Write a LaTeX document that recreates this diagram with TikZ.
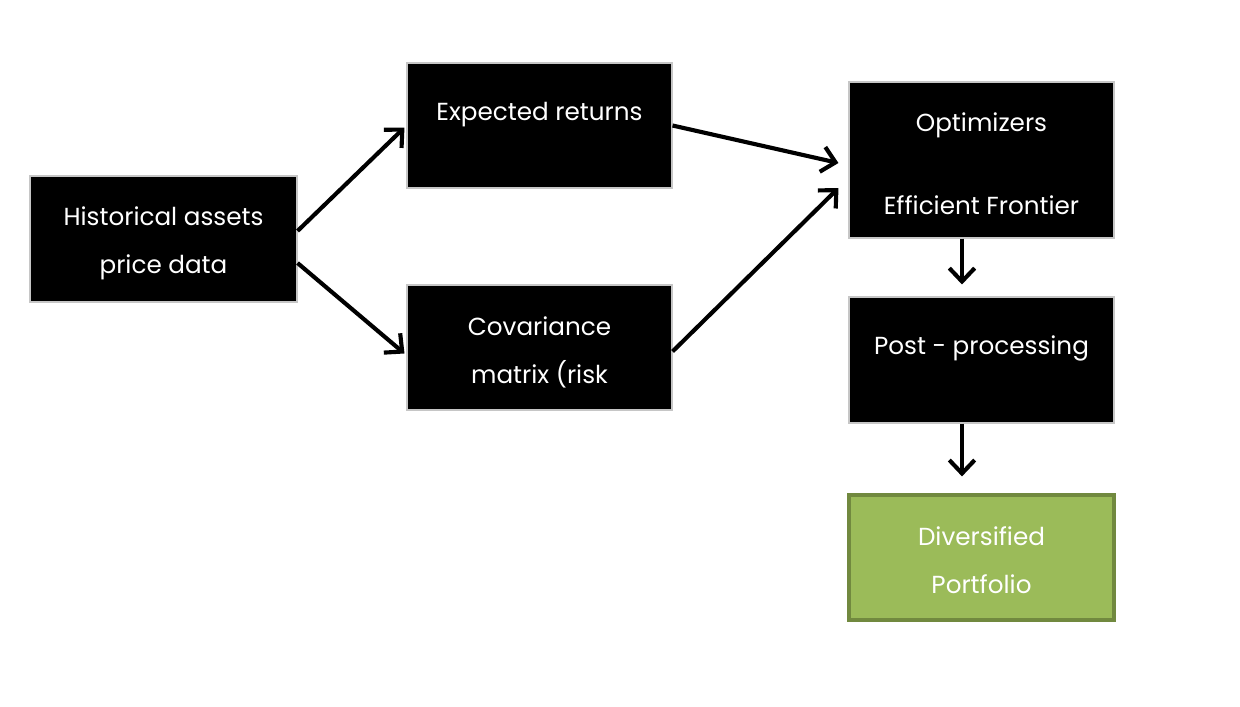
\documentclass[tikz,border=0pt]{standalone}
\usepackage{fontspec}
\setmainfont{Poppins}
\usetikzlibrary{arrows.meta,calc}
\definecolor{boxgreen}{HTML}{9BBB59}
\definecolor{boxgreenedge}{HTML}{71893F}
\tikzset{
  stepbox/.style={draw=gray!45, line width=0.8pt, fill=black, minimum width=265*0.75pt, minimum height=125*0.75pt, inner sep=0pt},
  greenbox/.style={stepbox, fill=boxgreen, draw=boxgreenedge, line width=2.4pt},
  boxtxt/.style={text=white, align=center, font=\fontsize{18.5}{36}\selectfont, inner sep=0pt},
  flow/.style={line width=3.1pt, -{Straight Barb[length=10pt,width=19pt,line width=3.1pt]}},
}
\begin{document}
\begin{tikzpicture}[x=0.75pt,y=-0.75pt]
\useasboundingbox (0,0) rectangle (1240,707);
\node[stepbox, minimum width=267*0.75pt, minimum height=126*0.75pt,
  label={[boxtxt,yshift=-3.5pt]center:Historical assets\\price data}] (hist) at (163.5,239) {};
\node[stepbox] (exp) at (539.5,125.5) {};
\node[boxtxt] (exptxt) at (539.5,115) {Expected returns};
\node[stepbox, label={[boxtxt,yshift=-3.5pt]center:Covariance\\matrix (risk}] (cov) at (539.5,347.5) {};
\node[stepbox, minimum height=156*0.75pt] (opt) at (981.5,160) {};
\node[boxtxt] (opttxt1) at (981.5,125) {Optimizers};
\node[boxtxt] (opttxt2) at (981.5,205) {Efficient Frontier};
\node[stepbox, minimum height=126*0.75pt] (post) at (981.5,360) {};
\node[boxtxt] (posttxt) at (981.5,348) {Post - processing};
\node[greenbox, label={[boxtxt,yshift=-2pt]center:Diversified\\Portfolio}] (div) at (981.5,557.5) {};
\draw[flow] ($(hist.east)+(0,-8)$) -- ($(exp.west)+(-2,2)$);
\draw[flow] ($(hist.east)+(0,24)$) -- ($(cov.west)+(-2,6)$);
\draw[flow] ($(exp.east)+(0,0)$) -- ($(opt.west)+(-10,3)$);
\draw[flow] ($(cov.east)+(0,4)$) -- ($(opt.west)+(-10,28)$);
\draw[flow] ($(opt.south)+(-19.5,0)$) -- ($(post.north)+(-19.5,-12)$);
\draw[flow] ($(post.south)+(-19.5,0)$) -- ($(div.north)+(-19.5,-17)$);
\end{tikzpicture}
\end{document}
